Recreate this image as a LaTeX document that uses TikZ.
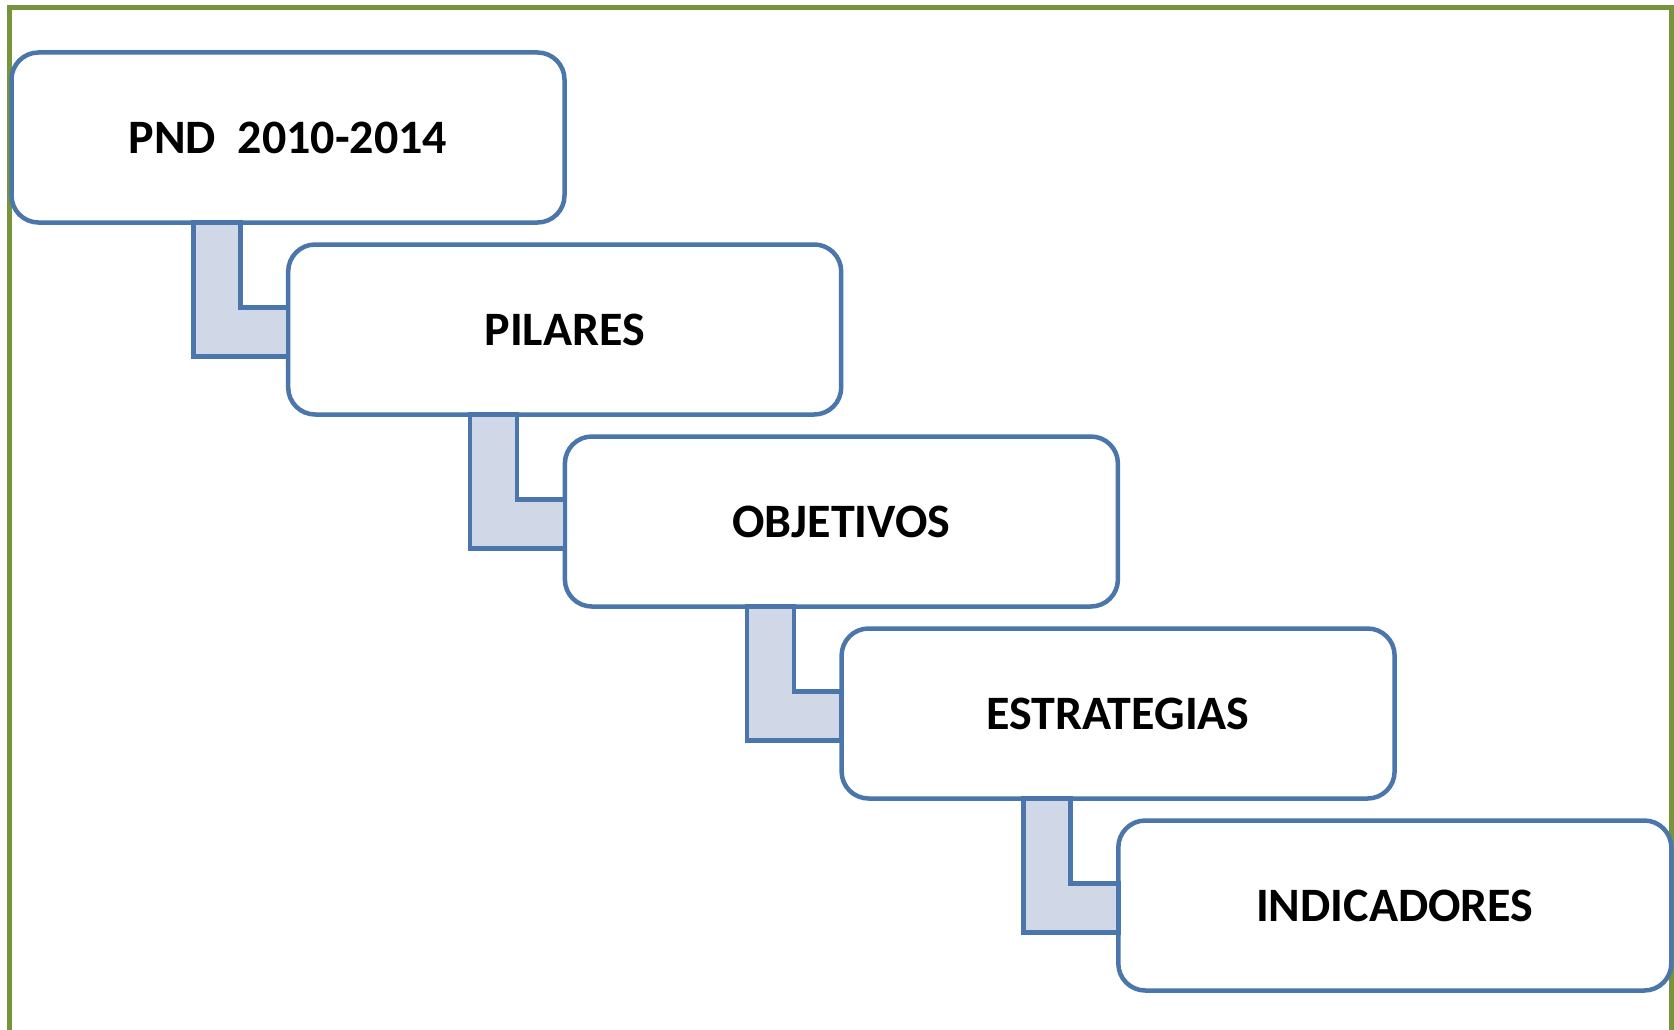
\documentclass[tikz,border=0pt]{standalone}
\usepackage{fontspec}
\setmainfont{Carlito}
\usetikzlibrary{positioning}
\definecolor{boxblue}{HTML}{4A76AC}
\definecolor{barfill}{HTML}{D0D8E8}
\definecolor{framegreen}{HTML}{77933C}

\begin{document}
\begin{tikzpicture}[
    stepbox/.style={draw=boxblue, fill=white, line width=4.5pt, rounded corners=27pt, outer sep=0pt, inner sep=0pt,
      minimum width=553pt, minimum height=170pt, font=\fontsize{48}{58}\selectfont\bfseries},
    linkbar/.style={draw=boxblue, fill=barfill, line width=4.5pt}]
    \useasboundingbox (0,0) rectangle (1674pt,-1030pt);
    \draw[framegreen, line width=5pt] (9pt,-1030pt) |- (1671pt,-8pt) -- (1671pt,-1030pt);

    \node[stepbox, anchor=north west] (P1) at (11.5pt,-52.5pt) {PND~~2010-2014};
    \node[stepbox, below=22pt of P1.south west, anchor=north west, xshift=276.7pt] (P2) {PILARES};
    \node[stepbox, below=22pt of P2.south west, anchor=north west, xshift=276.7pt] (P3) {OBJETIVOS};
    \node[stepbox, below=22pt of P3.south west, anchor=north west, xshift=276.7pt] (P4) {ESTRATEGIAS};
    \node[stepbox, below=22pt of P4.south west, anchor=north west, xshift=276.7pt] (P5) {INDICADORES};

    \draw[linkbar] ([xshift=182pt]P1.south west) |- ([yshift=-27pt]P2.west) -- ([yshift=22pt]P2.west) -| ([xshift=229pt]P1.south west) -- cycle;
    \draw[linkbar] ([xshift=182pt]P2.south west) |- ([yshift=-27pt]P3.west) -- ([yshift=22pt]P3.west) -| ([xshift=229pt]P2.south west) -- cycle;
    \draw[linkbar] ([xshift=182pt]P3.south west) |- ([yshift=-27pt]P4.west) -- ([yshift=22pt]P4.west) -| ([xshift=229pt]P3.south west) -- cycle;
    \draw[linkbar] ([xshift=182pt]P4.south west) |- ([yshift=-27pt]P5.west) -- ([yshift=22pt]P5.west) -| ([xshift=229pt]P4.south west) -- cycle;
\end{tikzpicture}
\end{document}
